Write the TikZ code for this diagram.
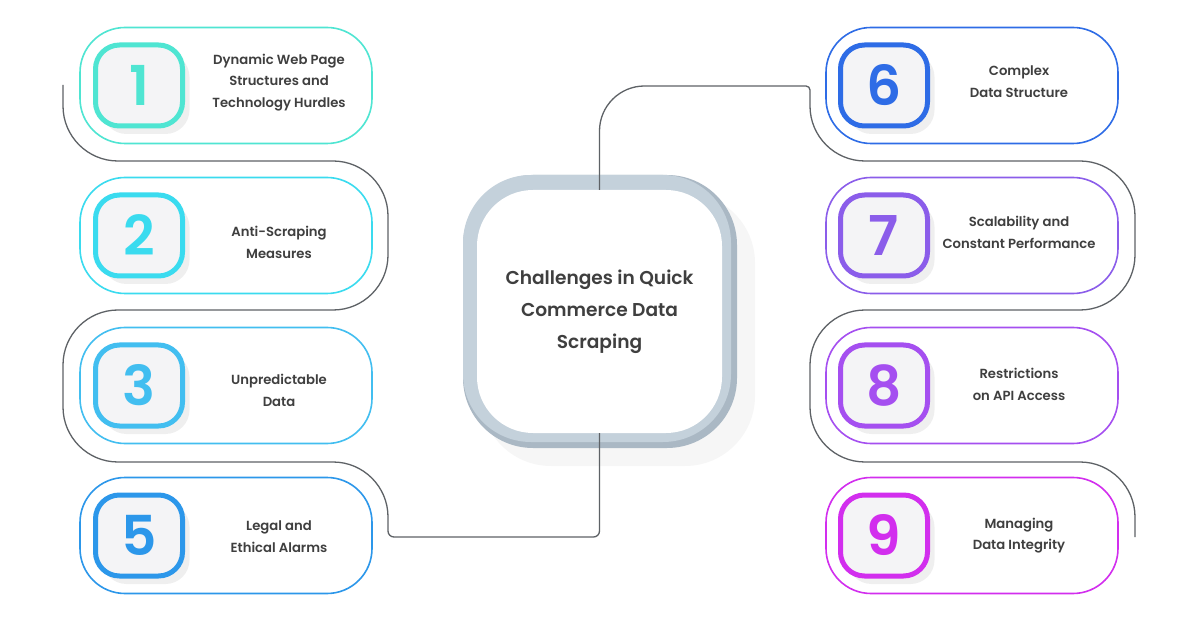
\documentclass[tikz,border=0pt]{standalone}
\usepackage{fontspec}
\setmainfont{Poppins}[BoldFont={* SemiBold}]
\usepackage{xcolor}
\usetikzlibrary{positioning,shadows}
\definecolor{qcTeal}{HTML}{4FE5D2}
\definecolor{qcCyan}{HTML}{3ADBEF}
\definecolor{qcSky}{HTML}{42BEF0}
\definecolor{qcAzure}{HTML}{2C97EA}
\definecolor{qcBlue}{HTML}{2E6CE6}
\definecolor{qcViolet}{HTML}{8B5DEA}
\definecolor{qcPurple}{HTML}{A54FF0}
\definecolor{qcMagenta}{HTML}{D22EEE}
\definecolor{qcInk}{HTML}{3F3F3F}
\definecolor{qcWire}{HTML}{5E6266}
\definecolor{qcPanel}{HTML}{F4F4F6}
\definecolor{qcRing}{HTML}{C4D1DB}
\definecolor{qcRingDark}{HTML}{AAB8C4}

\begin{document}
\begin{tikzpicture}[x=1pt, y=-1pt,
  card/.style={rectangle, rounded corners=45pt, draw=#1, line width=1.6pt, fill=white, minimum width=292pt, minimum height=116pt},
  numbox/.style={rectangle, rounded corners=24pt, draw=#1, line width=5pt, fill=qcPanel, text=#1, minimum width=87pt, minimum height=81pt, font=\fontsize{55}{55}\bfseries\selectfont, drop shadow={shadow xshift=7pt, shadow yshift=-8pt, opacity=0.12}},
  cardtext/.style={text=qcInk, align=center, font=\fontsize{13.2}{21.5}\bfseries\selectfont},
  wire/.style={draw=qcWire, line width=1.3pt}]
\useasboundingbox[fill=white] (0,0) rectangle (1200,628);

% left column
\node[card=qcTeal] (card1) at (226,85.5) {};
\node[card=qcCyan] (card2) [below=32.4pt of card1] {};
\node[card=qcSky] (card3) [below=32.4pt of card2] {};
\node[card=qcAzure] (card5) [below=32.4pt of card3] {};

% right column
\node[card=qcBlue] (card6) [right=452.4pt of card1] {};
\node[card=qcViolet] (card7) [below=32.4pt of card6] {};
\node[card=qcPurple] (card8) [below=32.4pt of card7] {};
\node[card=qcMagenta] (card9) [below=32.4pt of card8] {};

\node[numbox=qcTeal] (num1) at ([xshift=-87pt]card1.center) {1};
\node[numbox=qcCyan] (num2) at ([xshift=-87pt]card2.center) {2};
\node[numbox=qcSky] (num3) at ([xshift=-87pt]card3.center) {3};
\node[numbox=qcAzure] (num5) at ([xshift=-87pt]card5.center) {5};
\node[numbox=qcBlue] (num6) at ([xshift=-88pt]card6.center) {6};
\node[numbox=qcViolet] (num7) at ([xshift=-88pt]card7.center) {7};
\node[numbox=qcPurple] (num8) at ([xshift=-88pt]card8.center) {8};
\node[numbox=qcMagenta] (num9) at ([xshift=-88pt]card9.center) {9};

\node[cardtext] (txt1) at ([xshift=53pt,yshift=3pt]card1.center) {Dynamic Web Page\\Structures and\\Technology Hurdles};
\node[cardtext] (txt2) at ([xshift=53pt,yshift=-7pt]card2.center) {Anti-Scraping\\Measures};
\node[cardtext] (txt3) at ([xshift=53pt,yshift=-5pt]card3.center) {Unpredictable\\Data};
\node[cardtext] (txt5) at ([xshift=53pt,yshift=-1pt]card5.center) {Legal and\\Ethical Alarms};
\node[cardtext] (txt6) at ([xshift=47pt,yshift=4pt]card6.center) {Complex\\Data Structure};
\node[cardtext] (txt7) at ([xshift=47pt,yshift=3pt]card7.center) {Scalability and\\Constant Performance};
\node[cardtext] (txt8) at ([xshift=47pt,yshift=1pt]card8.center) {Restrictions\\on API Access};
\node[cardtext] (txt9) at ([xshift=47pt]card9.center) {Managing\\Data Integrity};

% centre hub
\node[rectangle, rounded corners=70pt, fill=qcRingDark, minimum width=274pt, minimum height=273pt, drop shadow={shadow xshift=18pt, shadow yshift=-18pt, opacity=0.07}] (ringback) at (600,311.5) {};
\node[rectangle, rounded corners=68pt, fill=qcRing, minimum width=268pt, minimum height=267pt] (ring) at (597,308.5) {};
\node[rectangle, rounded corners=56pt, fill=white, minimum width=245pt, minimum height=243pt, align=center, text=qcInk, font=\fontsize{18.6}{32}\bfseries\selectfont] (hub) at (599.5,311.5) {Challenges in Quick\\Commerce Data\\Scraping};

% wires
\coordinate (lstart) at (63,85);
\coordinate (rend) at (1135,537);
\draw[wire] (lstart) [rounded corners=55pt] -- (63,161) -- (388,161) -- (388,310) -- (63,310) -- (63,462) -- (388,462) [rounded corners=6pt] -- (388,537) -| (hub.south);
\draw[wire] (hub.north) [rounded corners=45pt] |- (700,86) [rounded corners=4pt] -- (810,86) [rounded corners=55pt] -- (810,161) -- (1135,161) -- (1135,310) -- (810,310) -- (810,462) -- (1135,462) -- (rend);
\end{tikzpicture}
\end{document}
